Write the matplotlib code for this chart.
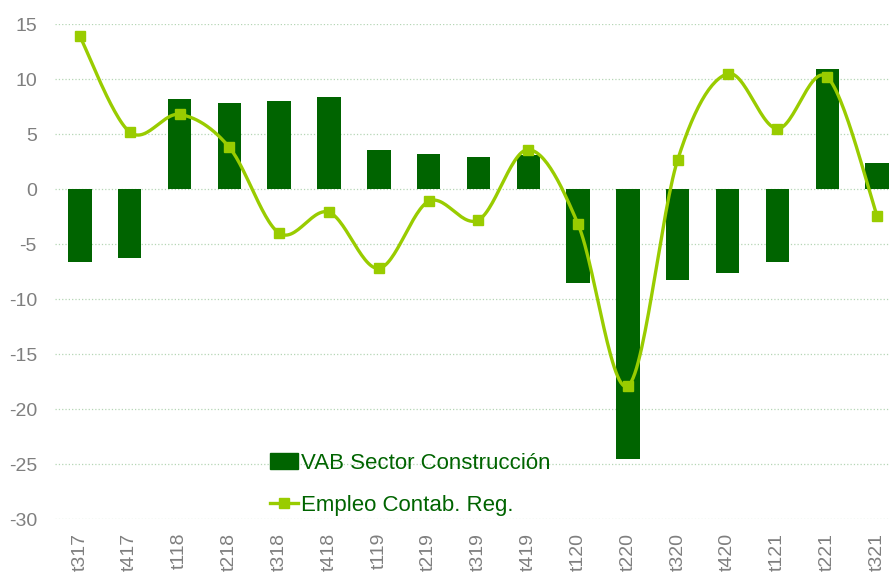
import numpy as np
import matplotlib
matplotlib.use("Agg")
import matplotlib.pyplot as plt
from matplotlib.patches import Patch
from matplotlib.lines import Line2D

plt.rcParams['font.family'] = ['Liberation Sans', 'DejaVu Sans']
plt.rcParams['axes.unicode_minus'] = False

# data
quarters = ['t317', 't417', 't118', 't218', 't318', 't418', 't119', 't219', 't319',
            't419', 't120', 't220', 't320', 't420', 't121', 't221', 't321']
vab = [-6.6, -6.3, 8.2, 7.8, 8.0, 8.4, 3.6, 3.2, 2.9,
       3.1, -8.5, -24.5, -8.3, -7.6, -6.6, 10.9, 2.4]
empleo = [13.9, 5.2, 6.8, 3.8, -4.0, -2.1, -7.2, -1.1, -2.8,
          3.6, -3.2, -17.9, 2.7, 10.5, 5.5, 10.2, -2.4]

BAR_COLOR = '#006400'
LINE_COLOR = '#99cc00'
TICK_COLOR = '#7f7f7f'


# Excel-like smoothed line (Catmull-Rom bezier through the points)
def smooth_curve(xs, ys, n=30):
    pts = np.column_stack([xs, ys]).astype(float)
    padded = np.vstack([pts[0], pts, pts[-1]])
    out = []
    t = np.linspace(0, 1, n)[:, None]
    for i in range(1, len(padded) - 2):
        p0, p1, p2, p3 = padded[i - 1], padded[i], padded[i + 1], padded[i + 2]
        c1 = p1 + (p2 - p0) / 6.0
        c2 = p2 - (p3 - p1) / 6.0
        seg = ((1 - t) ** 3) * p1 + 3 * ((1 - t) ** 2) * t * c1 + 3 * (1 - t) * t ** 2 * c2 + t ** 3 * p2
        out.append(seg if i == 1 else seg[1:])
    out = np.vstack(out)
    return out[:, 0], out[:, 1]


fig = plt.figure(figsize=(8.9, 5.72), dpi=100)
ax = fig.add_axes([55 / 890, 1 - 519 / 572, 1 - 55 / 890, (519 - 24.3) / 572])

x = np.arange(len(quarters))
ax.bar(x, vab, width=0.47, color=BAR_COLOR, zorder=2)

sx, sy = smooth_curve(x, empleo)
ax.plot(sx, sy, color=LINE_COLOR, lw=2.4, zorder=3, solid_capstyle='round')
ax.plot(x, empleo, ls='none', marker='s', ms=7, color=LINE_COLOR, zorder=4)

ax.set_xlim(-0.5, 16.26)
ax.set_ylim(-30, 15)
ax.set_yticks(np.arange(-30, 16, 5))
ax.set_xticks(x)
ax.set_xticklabels(quarters, rotation=90, va='top')
ax.tick_params(axis='both', length=0, labelsize=14, colors=TICK_COLOR)
ax.tick_params(axis='y', pad=13)
ax.tick_params(axis='x', pad=10)
ax.yaxis.grid(True, color='#b5d6b5', linestyle=':', linewidth=0.9, zorder=0)
ax.set_axisbelow(True)
for sp in ax.spines.values():
    sp.set_visible(False)

handles = [Patch(facecolor=BAR_COLOR, edgecolor=BAR_COLOR),
           Line2D([], [], color=LINE_COLOR, lw=2.4, marker='s', ms=7)]
leg = ax.legend(handles, ['VAB Sector Construcción', 'Empleo Contab. Reg.'],
                loc='upper left', bbox_to_anchor=(270 / 890, 1 - 453 / 572),
                bbox_transform=fig.transFigure, frameon=False, fontsize=16,
                borderpad=0, borderaxespad=0, handlelength=1.26, handleheight=0.72,
                handletextpad=0.12, labelspacing=0.95)
for txt in leg.get_texts():
    txt.set_color(BAR_COLOR)

fig.savefig('out.png', dpi=100)
